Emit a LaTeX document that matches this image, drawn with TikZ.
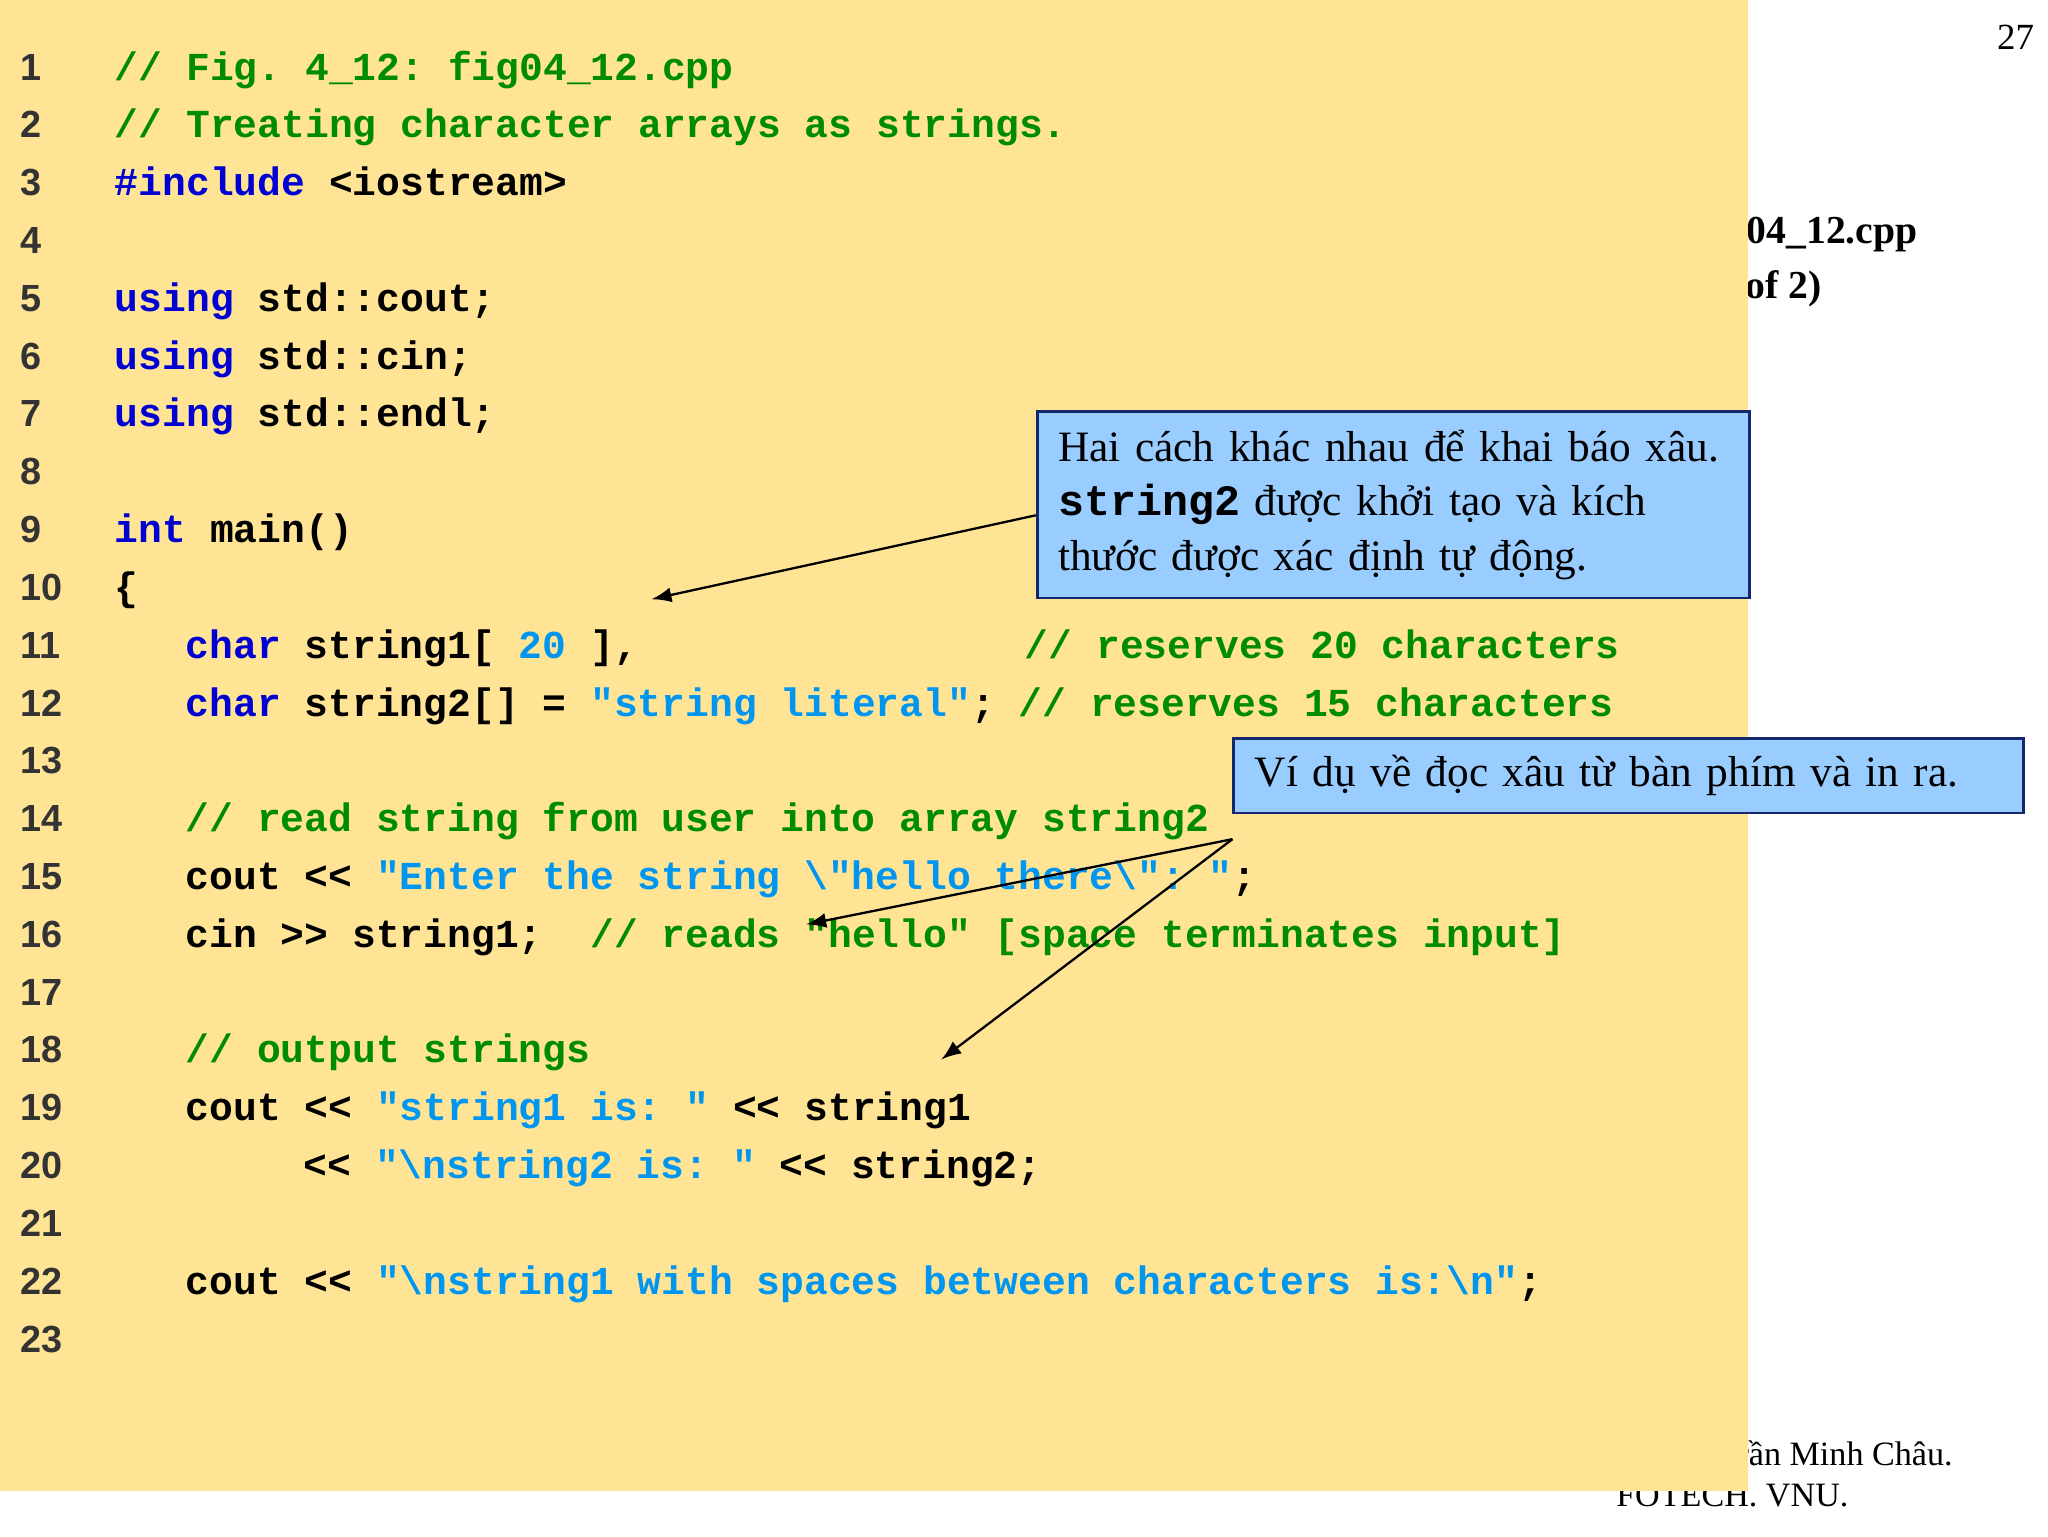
\documentclass[tikz,border=0pt]{standalone}
\usepackage{fontspec}
\setmainfont{Liberation Serif}
\setmonofont{Liberation Mono}
\newfontfamily\numfont{Liberation Sans}
\definecolor{bgy}{RGB}{255,228,150}
\definecolor{cg}{RGB}{0,140,0}
\definecolor{ck}{RGB}{0,0,210}
\definecolor{cs}{RGB}{0,150,240}
\definecolor{cbox}{RGB}{153,204,255}
\definecolor{cboxd}{RGB}{20,40,110}
\newcommand\kwd[1]{\textcolor{ck}{#1}}
\newcommand\cmt[1]{\textcolor{cg}{#1}}
\newcommand\strg[1]{\textcolor{cs}{#1}}
\newcommand\bs{\textbackslash}
\begin{document}
\begin{tikzpicture}[x=0.01cm,y=-0.01cm,
  code/.style={anchor=base west,inner sep=0pt,font=\ttfamily\bfseries\fontsize{8.6}{10}\selectfont},
  lnum/.style={anchor=base west,inner sep=0pt,text=black!80,font=\numfont\bfseries\fontsize{8.2}{10}\selectfont},
  callout/.style={draw=cboxd,fill=cbox,line width=0.6pt,anchor=north west,align=left,inner ysep=0pt,inner xsep=0.16cm,font=\fontsize{9.4}{11.9}\selectfont},
  arr/.style={-latex,line width=0.5pt}]
\useasboundingbox (0,0) rectangle (1562,1171.5);
\fill[white] (0,0) rectangle (1562,1171.5);
% background slide texts
\node[anchor=base east,inner sep=0pt,font=\fontsize{8}{10}\selectfont] (pg) at (1552,38) {27};
\node[anchor=north west,inner sep=0pt,align=left,font=\bfseries\fontsize{8.6}{11.9}\selectfont] (fn) at (1298,164) {fig04\_12.cpp\\(1 of 2)};
\node[anchor=base east,inner sep=0pt,font=\fontsize{7.4}{8.6}\selectfont] (au) at (1490,1118) {Trần Minh Châu.};
\node[anchor=base west,inner sep=0pt,font=\fontsize{7.4}{8.6}\selectfont] (au2) at (1232,1149) {FOTECH. VNU.};
\fill[bgy] (0,0) rectangle (1333,1137);
% line numbers
\foreach \i in {1,...,23} {
  \node[lnum] (n\i) at (15,{52+(\i-1)*44.1+9}) {\i};
}
\newcommand\Y[1]{{52+(#1-1)*44.1+9}}
\node[code] (l1) at (87,\Y{1}) {\cmt{// Fig. 4\_12: fig04\_12.cpp}};
\node[code] (l2) at (87,\Y{2}) {\cmt{// Treating character arrays as strings.}};
\node[code] (l3) at (87,\Y{3}) {\kwd{\#include} <iostream>};
\node[code] (l5) at (87,\Y{5}) {\kwd{using} std::cout;};
\node[code] (l6) at (87,\Y{6}) {\kwd{using} std::cin;};
\node[code] (l7) at (87,\Y{7}) {\kwd{using} std::endl;};
\node[code] (l9) at (87,\Y{9}) {\kwd{int} main()};
\node[code] (l10) at (87,\Y{10}) {\{};
\node[code] (l11) at (141,\Y{11}) {\kwd{char} string1[ \strg{20} ],};
\node[code] (l11c) at (781,\Y{11}) {\cmt{// reserves 20 characters}};
\node[code] (l12) at (141,\Y{12}) {\kwd{char} string2[] = \strg{"string literal"}; \cmt{// reserves 15 characters}};
\node[code] (l14) at (141,\Y{14}) {\cmt{// read string from user into array string2}};
\node[code] (l15) at (141,\Y{15}) {cout << \strg{"Enter the string \bs"hello there\bs": "};};
\node[code] (l16) at (141,\Y{16}) {cin >> string1;\ \ \cmt{// reads "hello" [space terminates input]}};
\node[code] (l18) at (141,\Y{18}) {\cmt{// output strings}};
\node[code] (l19) at (141,\Y{19}) {cout << \strg{"string1 is: "} << string1};
\node[code] (l20) at (231,\Y{20}) {<< \strg{"\bs nstring2 is: "} << string2;};
\node[code] (l22) at (141,\Y{22}) {cout << \strg{"\bs nstring1 with spaces between characters is:\bs n"};};
% callouts
\node[callout,text width=5.11cm,minimum height=1.42cm] (c1) at (790,313)
 {Hai cách khác nhau để khai báo xâu.\\{\ttfamily\bfseries string2} được khởi tạo và kích\\thước được xác định tự động.};
\node[callout,text width=5.70cm,minimum height=0.57cm] (c2) at (940,562)
 {Ví dụ về đọc xâu từ bàn phím và in ra.};
\coordinate (t1) at (497,457);
\coordinate (t2) at (615,705);
\coordinate (t3) at (718,808);
\draw[arr] (c1.west|-0,393) -- (t1);
\draw[arr] (c2.west|-0,640) -- (t2);
\draw[arr] (c2.west|-0,640) -- (t3);
\end{tikzpicture}
\end{document}
